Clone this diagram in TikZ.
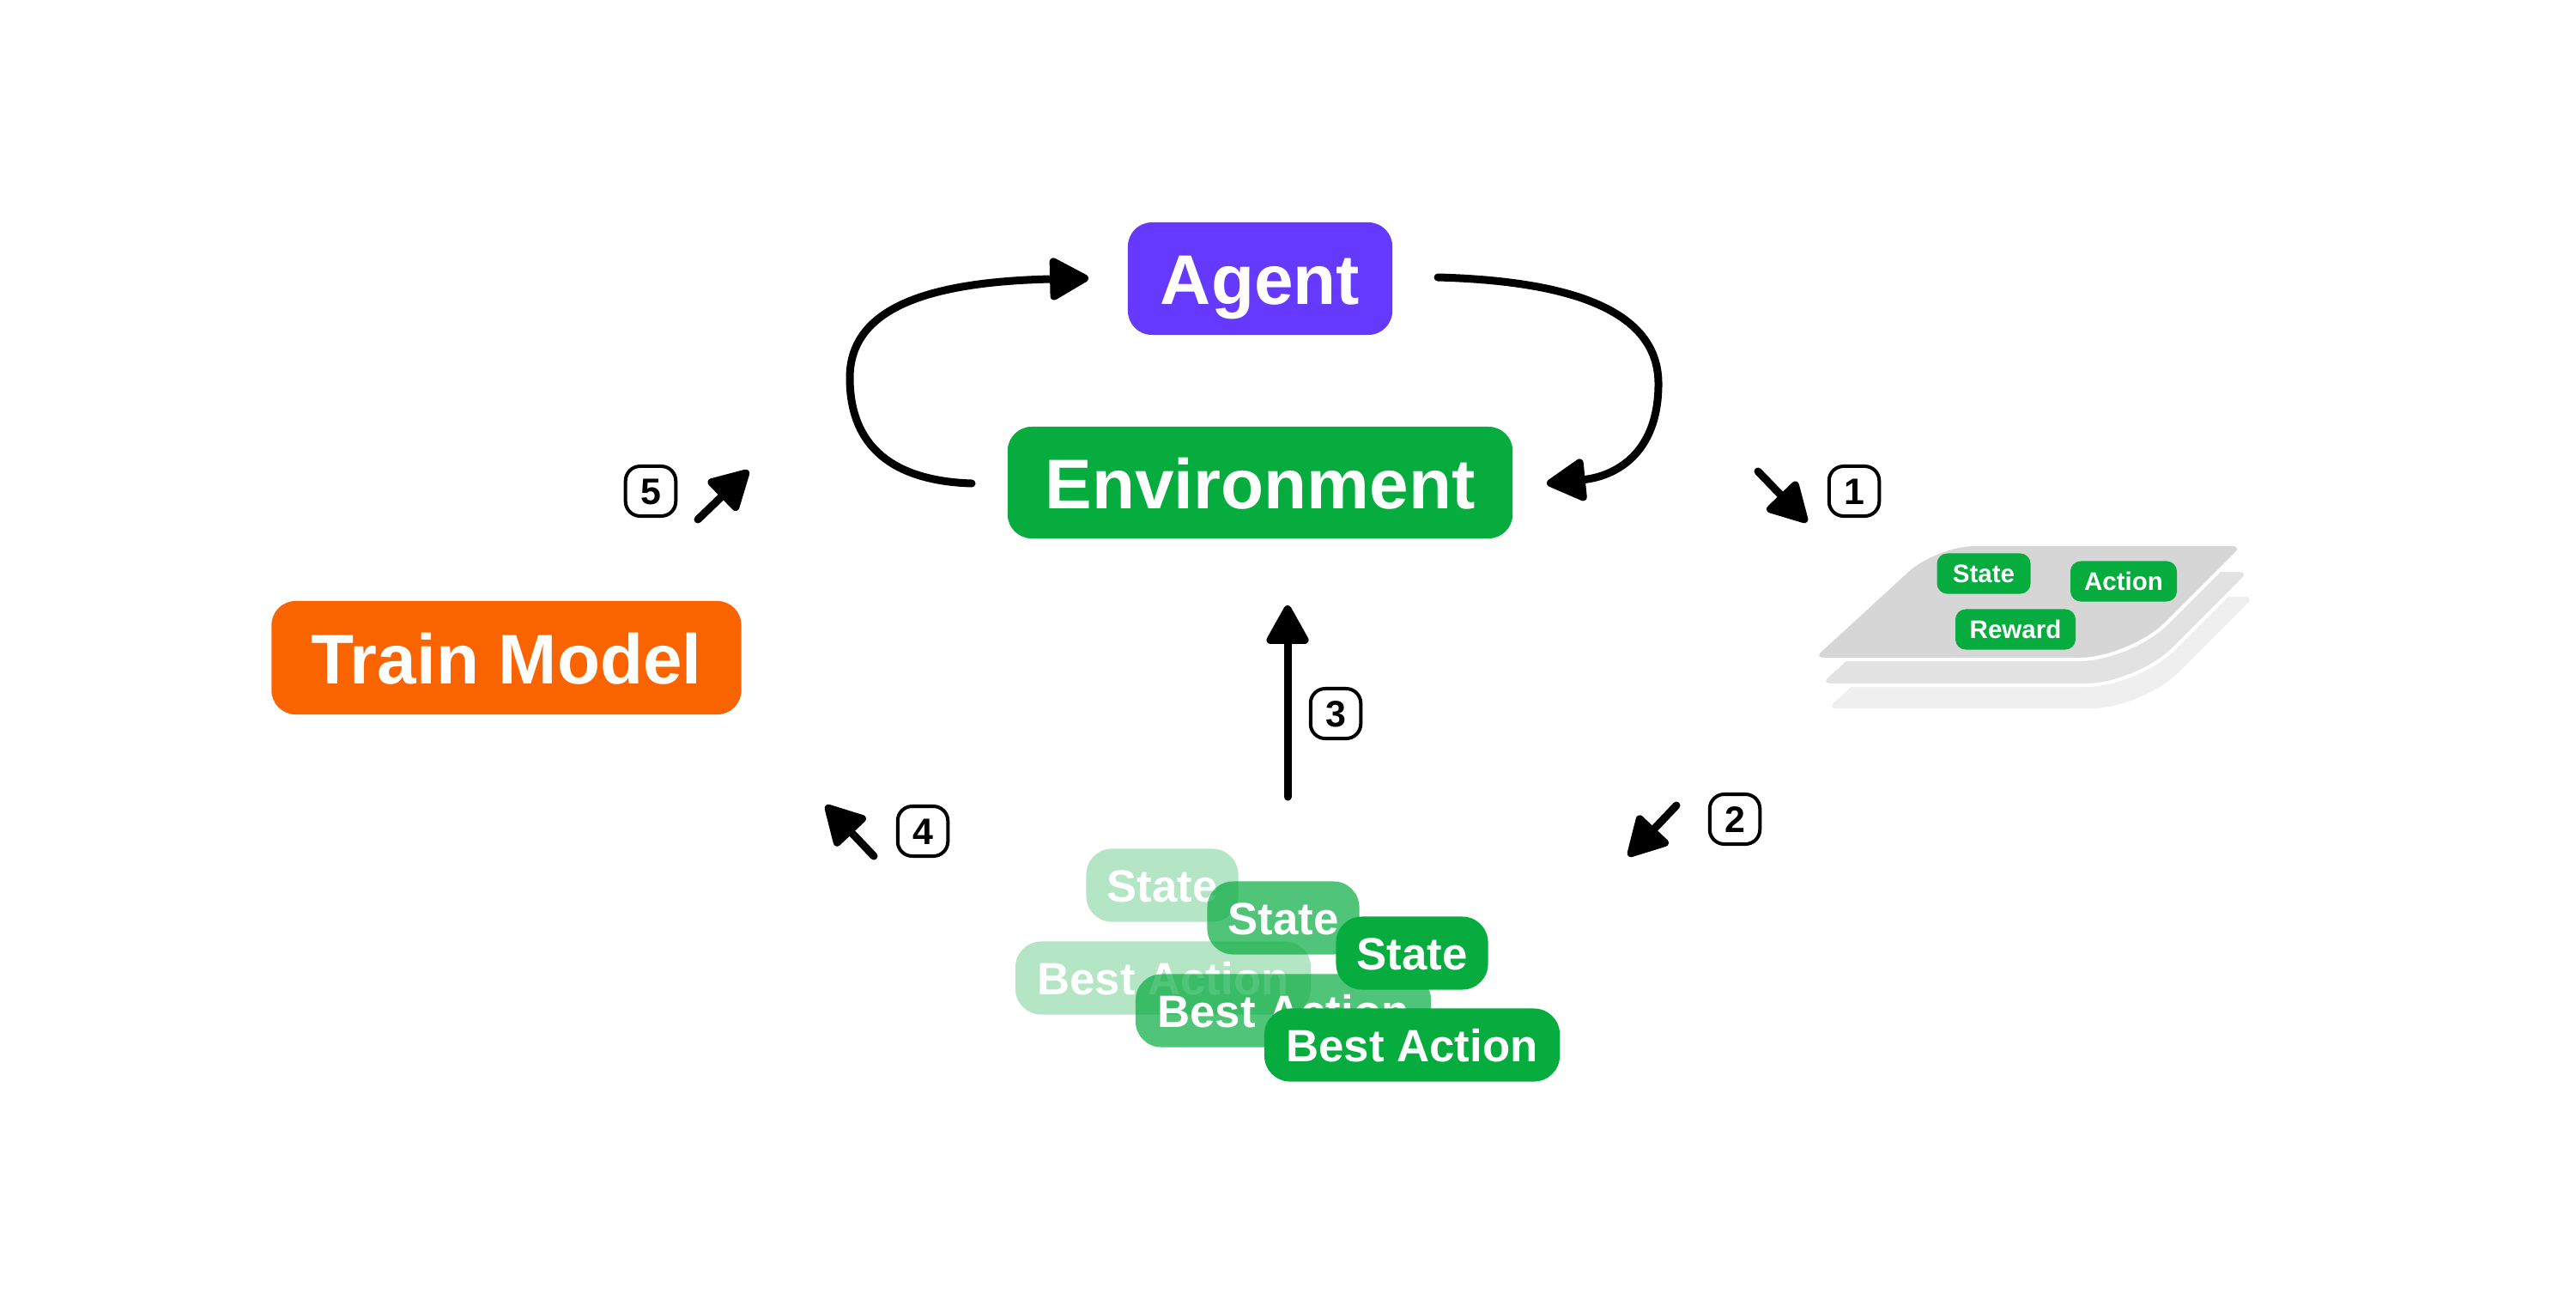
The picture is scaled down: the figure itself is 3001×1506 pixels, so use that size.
\documentclass[tikz,border=0pt]{standalone}
\usepackage{fontspec}
\setmainfont{Liberation Sans}
\usetikzlibrary{arrows.meta,calc}
\definecolor{envgreen}{RGB}{7,172,63}
\definecolor{agentpurple}{RGB}{102,57,255}
\definecolor{trainorange}{RGB}{250,100,0}
\definecolor{cardA}{RGB}{214,214,214}
\definecolor{cardB}{RGB}{226,226,226}
\definecolor{cardC}{RGB}{239,239,239}
\begin{document}
\begin{tikzpicture}[x=0.01cm,y=-0.01cm,
  bigbox/.style={rounded corners=0.28cm, text=white, inner sep=0pt,
    font=\fontsize{23.3}{26}\selectfont\bfseries, text height=0.6cm, text depth=0pt},
  chip/.style={rounded corners=0.3cm, fill=envgreen, text=white, inner sep=0pt,
    font=\fontsize{15}{17}\selectfont\bfseries, minimum height=0.85cm,
    text height=0.38cm, text depth=0pt, text opacity=1},
  cchip/.style={rounded corners=0.12cm, fill=envgreen, text=white, inner sep=0pt,
    font=\fontsize{8.4}{10}\selectfont\bfseries, minimum height=0.47cm,
    text height=0.21cm, text depth=0pt},
  numbox/.style={draw=black, line width=0.04cm, rounded corners=0.17cm,
    minimum width=0.585cm, minimum height=0.58cm, inner sep=0pt,
    font=\fontsize{12.2}{14}\selectfont\bfseries, text height=0.305cm, text depth=0pt},
  arr/.style={line width=0.09cm, line cap=round,
    -{Triangle[length=0.5cm,width=0.53cm,round]}},
  cardshape/.style={draw=white, line width=0.04cm}
]
\fill[white] (0,0) rectangle (3001,1506);
\useasboundingbox (0,0) rectangle (3001,1506);

% main boxes
\node[bigbox, fill=agentpurple, minimum width=3.08cm, minimum height=1.31cm] (agent) at (1468,324.5) {Agent};
\node[bigbox, fill=envgreen, minimum width=5.88cm, minimum height=1.30cm] (env) at (1468,562) {Environment};
\node[bigbox, fill=trainorange, minimum width=5.47cm, minimum height=1.32cm] (train) at (590,766) {Train Model};

% loop arrows
\coordinate (lt) at (1132,563);
\coordinate (lh) at (1268,324);
\coordinate (rt) at (1675,323);
\coordinate (rh) at (1802,563);
\draw[arr] (lt) .. controls (1040,560) and (990,520) .. (990,440)
  .. controls (990,355) and (1090,328) .. (lh);
\draw[arr] (rt) .. controls (1860,328) and (1932,375) .. (1932,447)
  .. controls (1932,530) and (1880,555) .. (rh);

% cards stack
\foreach \dx/\dy/\col in {15/59/cardC, 8/30/cardB, 0/0/cardA}{
  \begin{scope}[shift={(\dx,\dy)}]
    \filldraw[cardshape, fill=\col] (2125,768) -- (2422,768)
      .. controls (2455,768) and (2501.1,748.9) .. (2524.4,725.6)
      -- (2604.7,645.3)
      .. controls (2610.9,639.1) and (2608.8,634) .. (2600,634)
      -- (2300,634)
      .. controls (2275.2,634) and (2240.1,647.7) .. (2221.9,664.4)
      -- (2120.8,757.2)
      .. controls (2114.3,763.1) and (2116.2,768) .. (2125,768) -- cycle;
  \end{scope}
}
\node[cchip, minimum width=1.09cm] (cstate) at (2311,668) {State};
\node[cchip, minimum width=1.24cm] (caction) at (2474,677) {Action};
\node[cchip, minimum width=1.40cm] (creward) at (2348,733) {Reward};

% stacked state / best action chips
\node[chip, fill opacity=0.3, minimum width=1.77cm] (s1) at (1354,1031) {State};
\node[chip, fill opacity=0.3, minimum width=3.44cm] (b1) at (1355,1139) {Best Action};
\node[chip, fill opacity=0.7, minimum width=1.77cm] (s2) at (1495,1069) {State};
\node[chip, fill opacity=0.7, minimum width=3.44cm] (b2) at (1495,1177) {Best Action};
\node[chip, minimum width=1.77cm] (s3) at (1645,1110) {State};
\node[chip, minimum width=3.44cm] (b3) at (1645,1217) {Best Action};

% step arrows
\coordinate (a1s) at (2048,549);
\coordinate (a1e) at (2105,608);
\coordinate (a2s) at (1953,938);
\coordinate (a2e) at (1897,997);
\coordinate (a3s) at (1500,928);
\coordinate (a3e) at (1500,705);
\coordinate (a4s) at (1018,997);
\coordinate (a4e) at (962,938);
\coordinate (a5s) at (813,605);
\coordinate (a5e) at (872,548);
\draw[arr] (a1s) -- (a1e);
\draw[arr] (a2s) -- (a2e);
\draw[arr] (a3s) -- (a3e);
\draw[arr] (a4s) -- (a4e);
\draw[arr] (a5s) -- (a5e);

% step numbers
\node[numbox] (n1) at (2160,572) {1};
\node[numbox] (n2) at (2021,954) {2};
\node[numbox] (n3) at (1556,831) {3};
\node[numbox] (n4) at (1075,968) {4};
\node[numbox] (n5) at (758,572) {5};
\end{tikzpicture}
\end{document}
